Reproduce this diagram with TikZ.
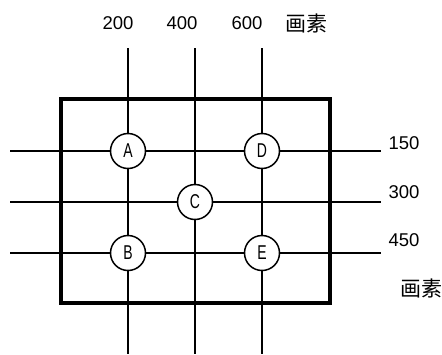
\documentclass[tikz,border=0pt]{standalone}
\usepackage{fontspec}
\setmainfont{Liberation Sans}
\newfontfamily\cjk{Noto Sans CJK SC}
\begin{document}
\begin{tikzpicture}[x=1pt,y=1pt,
  gridline/.style={line width=1.7pt},
  pt/.style={circle,draw,line width=1.5pt,fill=white,minimum size=35pt,inner sep=0pt,
    font=\fontsize{20}{20}\selectfont},
  lbl/.style={font=\fontsize{18.5}{18.5}\selectfont,inner sep=0pt},
  clbl/.style={font=\cjk\fontsize{21}{21}\selectfont,inner sep=0pt}]
\useasboundingbox (0,0) rectangle (442,-354);
\fill[white] (0,0) rectangle (442,-354);
% frame
\draw[line width=4pt] (61,-99) rectangle (330,-303);
% points
\node[pt] (A) at (128,-151) {\scalebox{0.7}[1]{A}};
\node[pt] (D) at (262,-151) {\scalebox{0.7}[1]{D}};
\node[pt] (C) at (195,-202) {\scalebox{0.7}[1]{C}};
\node[pt] (B) at (128,-253) {\scalebox{0.7}[1]{B}};
\node[pt] (E) at (262,-253) {\scalebox{0.7}[1]{E}};
% line ends
\coordinate (t1) at (128,-48); \coordinate (b1) at (128,-354);
\coordinate (t2) at (195,-48); \coordinate (b2) at (195,-354);
\coordinate (t3) at (262,-48); \coordinate (b3) at (262,-354);
\coordinate (l1) at (10,-151); \coordinate (r1) at (381,-151);
\coordinate (l2) at (10,-202); \coordinate (r2) at (381,-202);
\coordinate (l3) at (10,-253); \coordinate (r3) at (381,-253);
% vertical lines
\draw[gridline] (t1) -- (A); \draw[gridline] (A) -- (B); \draw[gridline] (B) -- (b1);
\draw[gridline] (t2) -- (C); \draw[gridline] (C) -- (b2);
\draw[gridline] (t3) -- (D); \draw[gridline] (D) -- (E); \draw[gridline] (E) -- (b3);
% horizontal lines
\draw[gridline] (l1) -- (A); \draw[gridline] (A) -- (D); \draw[gridline] (D) -- (r1);
\draw[gridline] (l2) -- (C); \draw[gridline] (C) -- (r2);
\draw[gridline] (l3) -- (B); \draw[gridline] (B) -- (E); \draw[gridline] (E) -- (r3);
% labels
\node[lbl] (x200) at (118,-23) {200};
\node[lbl] (x400) at (182,-23) {400};
\node[lbl] (x600) at (247,-23) {600};
\node[clbl] (xu) at (306,-23) {画素};
\node[lbl] (y150) at (404,-143) {150};
\node[lbl] (y300) at (404,-192) {300};
\node[lbl] (y450) at (404,-240) {450};
\node[clbl] (yu) at (421,-288) {画素};
\end{tikzpicture}
\end{document}
